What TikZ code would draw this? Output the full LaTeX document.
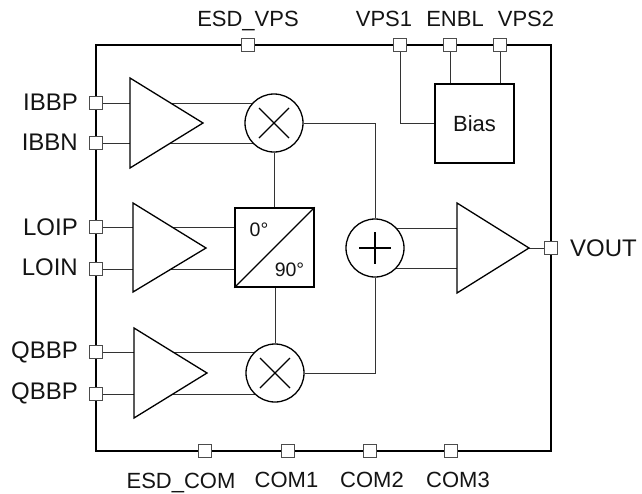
\documentclass[tikz,border=0pt]{standalone}
\usepackage{fontspec}
\setmainfont{Liberation Sans}
\usetikzlibrary{backgrounds}
\definecolor{wirecol}{gray}{0.2}
\tikzset{
  x=1pt,y=-1pt,
  frameline/.style={line width=2.8pt,black,line join=miter},
  pinbox/.style={draw=black!70,fill=white,line width=0.9pt,minimum size=13.5pt,inner sep=0pt},
  wire/.style={draw=wirecol,line width=1pt},
  amp/.style={draw=black,fill=white,line width=1.3pt,line join=miter},
  blockbox/.style={draw=black,fill=white,line width=1.4pt,inner sep=0pt},
  circ/.style={draw=black,fill=white,circle,line width=1.3pt,minimum size=58pt,inner sep=0pt},
  sym/.style={draw=black,line width=1.1pt},
  biglabel/.style={font=\fontsize{24}{24}\selectfont,inner sep=0pt,text=black!92},
  smalllabel/.style={font=\fontsize{22}{22}\selectfont,inner sep=0pt,text=black!92,anchor=base},
}
\begin{document}
\begin{tikzpicture}
\useasboundingbox (0,0) rectangle (642,493);
\coordinate (fTL) at (96,45);
\coordinate (fBR) at (551,451);
% pins
\node[pinbox] (pESDVPS) at (248,45) {};
\node[pinbox] (pVPSa) at (400,45) {};
\node[pinbox] (pENBL) at (450,45) {};
\node[pinbox] (pVPSb) at (500,45) {};
\node[pinbox] (pIBBP) at (96,103) {};
\node[pinbox] (pIBBN) at (96,143) {};
\node[pinbox] (pLOIP) at (96,227) {};
\node[pinbox] (pLOIN) at (96,269) {};
\node[pinbox] (pQa) at (96,352) {};
\node[pinbox] (pQb) at (96,394) {};
\node[pinbox] (pVOUT) at (551,248) {};
\node[pinbox] (pESDCOM) at (205,451) {};
\node[pinbox] (pCOMa) at (288,451) {};
\node[pinbox] (pCOMb) at (370,451) {};
\node[pinbox] (pCOMc) at (451,451) {};
% blocks
\node[circ] (mixA) at (274,123) {};
\node[circ] (mixB) at (275,373) {};
\node[circ] (sum) at (375,248) {};
\node[blockbox,minimum width=79pt,minimum height=79pt] (phase) at (274.5,247.5) {};
\node[blockbox,minimum width=79pt,minimum height=79pt,font=\fontsize{22}{22}\selectfont,text=black!92] (bias) at (474.5,123.5) {Bias};
% amplifiers
\draw[amp] (130,78) -- (203,123) coordinate (ampAo) -- (130,168) -- cycle;
\draw[amp] (133,203) -- (206,248) coordinate (ampBo) -- (133,292) -- cycle;
\draw[amp] (134,328) -- (207,373) coordinate (ampCo) -- (134,418) -- cycle;
\draw[amp] (457,203) -- (529,248) coordinate (ampDo) -- (457,293) -- cycle;
\coordinate (ampDiU) at (457,228);
\coordinate (ampDiL) at (457,268);
% connectors
\begin{scope}[on background layer]
  \draw[frameline] (fTL) rectangle (fBR);
  \draw[wire] (pIBBP) -- (pIBBP -| mixA);
  \draw[wire] (pIBBN) -- (pIBBN -| mixA);
  \draw[wire] (pLOIP) -- (pLOIP -| phase);
  \draw[wire] (pLOIN) -- (pLOIN -| phase);
  \draw[wire] (pQa) -- (pQa -| mixB);
  \draw[wire] (pQb) -- (pQb -| mixB);
  \draw[wire] (mixA) -- (mixA |- phase.north);
  \draw[wire] (mixB) -- (mixB |- phase.south);
  \draw[wire] (mixA) -| (sum);
  \draw[wire] (mixB) -| (sum);
  \draw[wire] (ampDiU -| sum) -- (ampDiU);
  \draw[wire] (ampDiL -| sum) -- (ampDiL);
  \draw[wire] (ampDo) -- (pVOUT);
  \draw[wire] (pVPSa) |- (bias);
  \draw[wire] (pENBL) -- (pENBL |- bias);
  \draw[wire] (pVPSb) -- (pVPSb |- bias);
\end{scope}
% symbols
\draw[sym] (259,108) -- (289,138) (289,108) -- (259,138);
\draw[sym] (260,358) -- (290,388) (290,358) -- (260,388);
\draw[sym] (359,248) -- (391,248) (375,232) -- (375,264);
\draw[line width=1.3pt] (phase.south west) -- (phase.north east);
\node[font=\fontsize{19.5}{19.5}\selectfont,inner sep=0pt,text=black!92] (deg0) at (259,230) {0°};
\node[font=\fontsize{19.5}{19.5}\selectfont,inner sep=0pt,text=black!92] (deg90) at (289.5,270) {90°};
% labels
\node[biglabel,anchor=east] (lIBBP) at (78,102) {IBBP};
\node[biglabel,anchor=east] (lIBBN) at (78,142) {IBBN};
\node[biglabel,anchor=east] (lLOIP) at (78,227) {LOIP};
\node[biglabel,anchor=east] (lLOIN) at (78,267) {LOIN};
\node[biglabel,anchor=east] (lQa) at (78,352) {QBBP};
\node[biglabel,anchor=east] (lQb) at (78,393) {QBBP};
\node[biglabel,anchor=west] (lVOUT) at (570,248) {VOUT};
\node[smalllabel] (lESDVPS) at (248,26.5) {ESD\_VPS};
\node[smalllabel] (lVPSa) at (384,26.5) {VPS1};
\node[smalllabel] (lENBL) at (455,26.5) {ENBL};
\node[smalllabel] (lVPSb) at (526,26.5) {VPS2};
\node[smalllabel] (lESDCOM) at (181,488) {ESD\_COM};
\node[smalllabel] (lCOMa) at (286.5,487) {COM1};
\node[smalllabel] (lCOMb) at (372,487) {COM2};
\node[smalllabel] (lCOMc) at (458,487) {COM3};
\end{tikzpicture}
\end{document}
